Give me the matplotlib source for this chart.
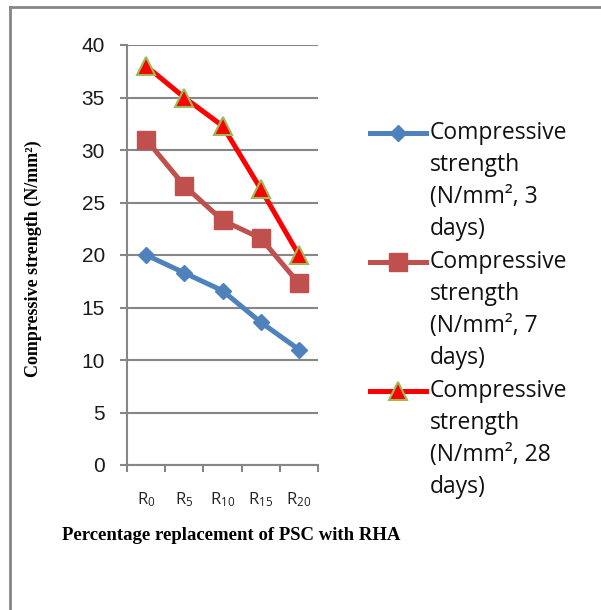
import matplotlib
matplotlib.use('Agg')
import matplotlib.pyplot as plt
from matplotlib.lines import Line2D
import numpy as np

# 数据
categories = ['R_{0}', 'R_{5}', 'R_{10}', 'R_{15}', 'R_{20}']
days_3 = [20.0, 18.3, 16.6, 13.6, 11.0]
days_7 = [31.0, 26.6, 23.3, 21.6, 17.3]
days_28 = [38.0, 35.0, 32.3, 26.3, 20.0]
labels = ['Compressive\nstrength\n(N/mm², 3\ndays)',
          'Compressive\nstrength\n(N/mm², 7\ndays)',
          'Compressive\nstrength\n(N/mm², 28\ndays)']

W, H = 601, 610
fig = plt.figure(figsize=(W / 100, H / 100), dpi=100)
ax = fig.add_axes([127 / W, 1 - 465 / H, 191 / W, 420 / H])

grid_c = '#868686'
x = np.arange(len(categories))

styles = [
    dict(color='#4F81BD', marker='D', markersize=8.5, markerfacecolor='#4F81BD',
         markeredgecolor='#4F81BD'),
    dict(color='#C0504D', marker='s', markersize=12.5, markerfacecolor='#C0504D',
         markeredgecolor='#C0504D'),
    dict(color='#FF0000', marker='^', markersize=13, markerfacecolor='#FF0000',
         markeredgecolor='#9BBB59', markeredgewidth=1.5),
]
series = [days_3, days_7, days_28]
for s, st in zip(series, styles):
    ax.plot(x, s, linewidth=3.6, zorder=3, **st)

ax.set_xlim(-0.5, len(categories) - 0.5)
ax.set_ylim(0, 40)
ax.set_yticks(np.arange(0, 41, 5))
ax.yaxis.grid(True, color=grid_c, linewidth=1.5)
ax.set_axisbelow(True)
for side in ['top', 'right']:
    ax.spines[side].set_visible(False)
for side in ['left', 'bottom']:
    ax.spines[side].set_color(grid_c)
    ax.spines[side].set_linewidth(1.5)

# x轴刻度：分隔线在类别边界，标签在中间
ax.set_xticks(np.arange(-0.5, len(categories), 1.0))
ax.set_xticklabels([])
ax.set_xticks(x, minor=True)
ax.set_xticklabels(['$\\mathregular{' + c + '}$' for c in categories], minor=True,
                   fontsize=12, family='Open Sans', color='#222222')
ax.tick_params(axis='x', which='major', length=5, width=1.5, color=grid_c)
ax.tick_params(axis='x', which='minor', length=0, pad=18)
ax.tick_params(axis='y', length=5, width=1.5, color=grid_c, pad=11)
for t in ax.get_yticklabels():
    t.set_fontsize(15)
    t.set_family('Liberation Sans')
    t.set_color('#1a1a1a')

fig.text(33 / W, 1 - 259 / H, 'Compressive strength (N/mm²)', rotation=90,
         ha='center', va='center', family='Liberation Serif', fontweight='bold',
         fontsize=13)
fig.text(231 / W, 1 - 536 / H, 'Percentage replacement of PSC with RHA',
         ha='center', va='center', family='Liberation Serif', fontweight='bold',
         fontsize=13.5)

# 图例（手动）
leg_y = [133, 262, 391]
for yy, st, lab in zip(leg_y, styles, labels):
    fy = 1 - yy / H
    fig.add_artist(Line2D([370 / W, 426 / W], [fy, fy], linewidth=3.6,
                          color=st['color'], transform=fig.transFigure))
    mst = {k: v for k, v in st.items() if k != 'color'}
    fig.add_artist(Line2D([398 / W], [fy], linestyle='none',
                          transform=fig.transFigure, **mst))
    fig.text(430 / W, fy + 12 / H, lab, ha='left', va='top', family='Open Sans',
             fontsize=16.5, linespacing=1.45, color='#111111')

# 外框（左边和上边）
fig.add_artist(Line2D([10 / W, 10 / W], [0, 1 - 7 / H], color=grid_c,
                      linewidth=2, transform=fig.transFigure))
fig.add_artist(Line2D([10 / W, 1], [1 - 7 / H, 1 - 7 / H], color=grid_c,
                      linewidth=2, transform=fig.transFigure))

fig.savefig('out.png', dpi=100)
